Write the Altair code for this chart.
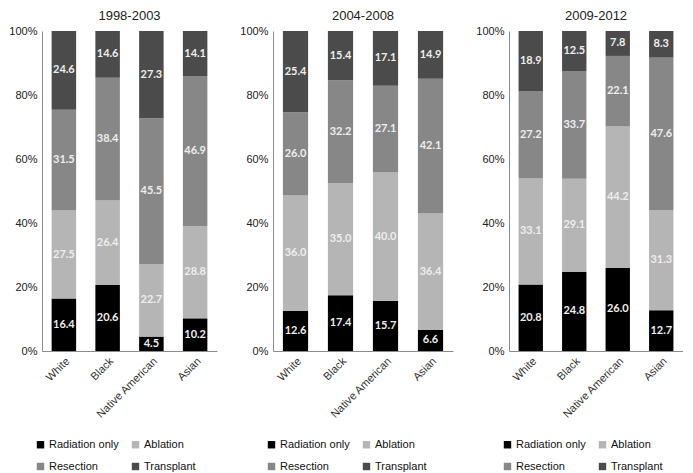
import altair as alt
import pandas as pd

periods = ["1998-2003", "2004-2008", "2009-2012"]
groups = ["White", "Black", "Native American", "Asian"]
categories = ["Radiation only", "Ablation", "Resection", "Transplant"]
colors = ["#000000", "#b5b5b5", "#878787", "#4b4b4b"]

# values per period, ordered as groups (White, Black, Native American, Asian)
radiation_only = {
    "1998-2003": [16.4, 20.6, 4.5, 10.2],
    "2004-2008": [12.6, 17.4, 15.7, 6.6],
    "2009-2012": [20.8, 24.8, 26.0, 12.7],
}
ablation = {
    "1998-2003": [27.5, 26.4, 22.7, 28.8],
    "2004-2008": [36.0, 35.0, 40.0, 36.4],
    "2009-2012": [33.1, 29.1, 44.2, 31.3],
}
resection = {
    "1998-2003": [31.5, 38.4, 45.5, 46.9],
    "2004-2008": [26.0, 32.2, 27.1, 42.1],
    "2009-2012": [27.2, 33.7, 22.1, 47.6],
}
transplant = {
    "1998-2003": [24.6, 14.6, 27.3, 14.1],
    "2004-2008": [25.4, 15.4, 17.1, 14.9],
    "2009-2012": [18.9, 12.5, 7.8, 8.3],
}

series = [radiation_only, ablation, resection, transplant]
rows = []
for p in periods:
    for ci, (cat, s) in enumerate(zip(categories, series)):
        for g, v in zip(groups, s[p]):
            rows.append({"period": p, "group": g, "category": cat, "ord": ci, "value": v})
df = pd.DataFrame(rows)

FONT = "Liberation Sans"
widths = {"1998-2003": 175, "2004-2008": 180, "2009-2012": 174}


def panel(p):
    base = alt.Chart(df[df.period == p])
    x = alt.X(
        "group:N",
        sort=groups,
        title=None,
        scale=alt.Scale(paddingInner=0.44, paddingOuter=0.22),
        axis=alt.Axis(labelAngle=-45, ticks=False, domainColor="#8c8c8c",
                      labelFontSize=11, labelColor="#333333", labelFont=FONT, labelPadding=4),
    )
    yscale = alt.Scale(domain=[0, 1])
    bars = base.mark_bar().encode(
        x=x,
        y=alt.Y("value:Q", stack="normalize", title=None, scale=yscale,
                axis=alt.Axis(format=".0%", values=[0, 0.2, 0.4, 0.6, 0.8, 1.0], ticks=False,
                              grid=False, domainColor="#8c8c8c", labelFontSize=11,
                              labelColor="#222222", labelFont=FONT, labelPadding=5)),
        color=alt.Color("category:N", scale=alt.Scale(domain=categories, range=colors),
                        legend=alt.Legend(title=None, orient="none", legendX=-7, legendY=408,
                                          columns=2, direction="horizontal",
                                          symbolType="square", symbolSize=55,
                                          labelFontSize=11, labelFont=FONT, labelColor="#111111",
                                          rowPadding=10, columnPadding=11, symbolStrokeWidth=0,
                                          labelOffset=3)),
        order=alt.Order("ord:Q"),
    )
    text = base.transform_stack(
        stack="value", groupby=["group"], sort=[alt.SortField("ord")], as_=["y0", "y1"], offset="normalize"
    ).transform_calculate(mid="(datum.y0 + datum.y1) / 2").mark_text(
        color="#eeeeee", fontSize=11, font="Lato", fontWeight="bold"
    ).encode(
        x=alt.X("group:N", sort=groups),
        y=alt.Y("mid:Q", scale=yscale),
        text=alt.Text("value:Q", format=".1f"),
    )
    return alt.layer(bars, text).properties(
        width=widths[p], height=320,
        title=alt.TitleParams(p, fontSize=13, font=FONT, fontWeight="normal", color="#222222", offset=2),
    )


chart = alt.hconcat(*[panel(p) for p in periods], spacing=22).resolve_scale(
    color="independent"
).configure_view(stroke=None).properties(padding={"top": 2, "left": 0, "right": 0, "bottom": 0})

chart.save("out.html", embed_options={"renderer": "svg", "actions": False})
